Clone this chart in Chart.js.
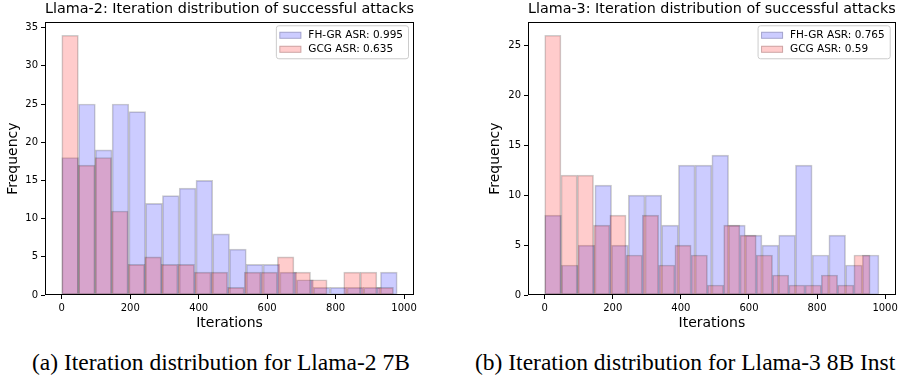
<!DOCTYPE html>
<html>
<head>
<meta charset="utf-8">
<script src="https://cdn.jsdelivr.net/npm/chart.js@4.4.1/dist/chart.umd.min.js"></script>
<style>
  body { margin: 0; background: #fff; }
  #page { position: relative; width: 901px; height: 375px; overflow: hidden; background: #fff; }
  .box { position: absolute; top: 0; height: 335px; }
  .caption { position: absolute; top: 348px; font-family: "Liberation Serif", serif; font-size: 23.5px; line-height: 28px; color: #000; white-space: nowrap; }
</style>
</head>
<body>
<div id="page">
  <div class="box" style="left:0;width:450px"><canvas id="chartA" width="450" height="335"></canvas></div>
  <div class="box" style="left:482px;width:419px"><canvas id="chartB" width="419" height="335"></canvas></div>
  <div class="caption" style="left:32px">(a) Iteration distribution for Llama-2 7B</div>
  <div class="caption" style="left:475px">(b) Iteration distribution for Llama-3 8B Inst</div>
</div>
<script>
// histogram counts, 20 bins each
const llama2FhgrCounts = [18, 25, 19, 25, 24, 12, 13, 14, 15, 8, 6, 4, 4, 3, 2, 1, 1, 1, 1, 3];
const llama2GcgCounts = [34, 17, 18, 11, 4, 5, 4, 4, 3, 3, 1, 3, 3, 5, 3, 2, 0, 3, 3, 1];
const llama3FhgrCounts = [8, 3, 5, 11, 5, 10, 10, 7, 13, 13, 14, 7, 6, 5, 6, 13, 4, 6, 3, 4];
const llama3GcgCounts = [26, 12, 12, 7, 8, 4, 8, 3, 5, 4, 1, 7, 6, 4, 2, 1, 1, 2, 1, 4];

// first / last iteration of each series (bin range)
const llama2FhgrRange = [0, 980];
const llama2GcgRange = [0, 969];
const llama3FhgrRange = [0, 982];
const llama3GcgRange = [0, 956];

// attack success rates shown in the legends
const llama2Asr = { fhgr: 0.995, gcg: 0.635 };
const llama3Asr = { fhgr: 0.765, gcg: 0.59 };

const FONT = '"DejaVu Sans", sans-serif';
Chart.defaults.font.family = FONT;
Chart.defaults.color = "#000";

function toPoints(counts, range) {
    const w = (range[1] - range[0]) / counts.length;
    return counts.map((c, i) => ({ x: range[0] + w * (i + 0.5), y: c }));
}

// box around the plot + legend in the top right corner (like matplotlib)
const frameAndLegend = {
    id: "frameAndLegend",
    afterDraw(chart) {
        const ctx = chart.ctx;
        const a = chart.chartArea;
        ctx.save();
        ctx.strokeStyle = "#000";
        ctx.lineWidth = 1;
        const l = Math.round(a.left) + 0.5, t = Math.round(a.top) + 0.5;
        const r = Math.round(a.right) - 0.5, b = Math.round(a.bottom) - 0.5;
        ctx.strokeRect(l, t, r - l, b - t);

        ctx.font = "10.5px " + FONT;
        const items = chart.data.datasets;
        const pad = 2.5, swW = 22, swH = 7, gap = 8, rowH = 14;
        const textW = Math.max(...items.map(d => ctx.measureText(d.label).width));
        const w = pad + swW + gap + textW + 5;
        const h = pad * 2 + rowH * items.length;
        const x0 = a.right - 6 - w;
        const y0 = a.top + 3;
        ctx.beginPath();
        ctx.roundRect(x0 + 0.5, y0 + 0.5, w, h, 2.5);
        ctx.fillStyle = "rgba(255,255,255,0.8)";
        ctx.fill();
        ctx.strokeStyle = "#cccccc";
        ctx.stroke();
        items.forEach((d, i) => {
            const cy = y0 + pad + rowH * (i + 0.5) + 0.5;
            ctx.fillStyle = d.backgroundColor;
            ctx.fillRect(x0 + pad + 1, cy - swH / 2, swW, swH);
            ctx.strokeStyle = d.borderColor;
            ctx.strokeRect(x0 + pad + 1.5, cy - swH / 2 + 0.5, swW - 1, swH - 1);
            ctx.fillStyle = "#000";
            ctx.textBaseline = "middle";
            ctx.fillText(d.label, x0 + pad + swW + gap, cy);
        });
        ctx.restore();
    }
};

function makeChart(id, title, fhgr, fhgrRange, gcg, gcgRange, asr, yWidth, padRight) {
    const lo = Math.min(fhgrRange[0], gcgRange[0]);
    const hi = Math.max(fhgrRange[1], gcgRange[1]);
    const xMin = lo - 0.05 * (hi - lo);
    const xMax = hi + 0.05 * (hi - lo);
    const yMax = 1.05 * Math.max(...fhgr, ...gcg);

    const barStyle = {
        borderColor: "rgba(0,0,0,0.2)",
        borderWidth: 1,
        borderSkipped: false,
        barPercentage: 1,
        categoryPercentage: 1,
        grouped: false
    };

    return new Chart(document.getElementById(id), {
        type: "bar",
        data: {
            datasets: [
                Object.assign({
                    label: "FH-GR ASR: " + asr.fhgr,
                    data: toPoints(fhgr, fhgrRange),
                    backgroundColor: "rgba(0,0,255,0.2)",
                    xAxisID: "x",
                    order: 1
                }, barStyle),
                Object.assign({
                    label: "GCG ASR: " + asr.gcg,
                    data: toPoints(gcg, gcgRange),
                    backgroundColor: "rgba(255,0,0,0.2)",
                    xAxisID: "x2",
                    order: 0
                }, barStyle)
            ]
        },
        options: {
            responsive: false,
            animation: false,
            devicePixelRatio: 1,
            layout: { padding: { left: 0, right: padRight, top: 0, bottom: 0 } },
            plugins: {
                legend: { display: false },
                tooltip: { enabled: false },
                title: {
                    display: true,
                    fullSize: false,
                    text: title,
                    color: "#000",
                    font: { size: 14.4, weight: "normal" },
                    padding: { top: 1, bottom: 4 }
                }
            },
            scales: {
                x: {
                    type: "linear",
                    position: "bottom",
                    offset: false,
                    min: xMin,
                    max: xMax,
                    ticks: {
                        stepSize: 200, includeBounds: false, font: { size: 10 }, padding: 3, maxRotation: 0,
                        callback: (v) => String(v)
                    },
                    grid: { offset: false, drawOnChartArea: false, drawTicks: true, tickLength: 4, color: "#000" },
                    border: { display: false },
                    title: { display: true, text: "Iterations", font: { size: 14 }, padding: { top: 0, bottom: 3.5 } },
                    afterFit: (s) => { s.height = 40; }
                },
                x2: {
                    type: "linear",
                    display: false,
                    offset: false,
                    grid: { offset: false },
                    min: xMin,
                    max: xMax
                },
                y: {
                    min: 0,
                    max: yMax,
                    ticks: { stepSize: 5, includeBounds: false, font: { size: 10 }, padding: 3 },
                    grid: { drawOnChartArea: false, drawTicks: true, tickLength: 4, color: "#000" },
                    border: { display: false },
                    title: { display: true, text: "Frequency", font: { size: 14 }, padding: { top: 4.5, bottom: 0 } },
                    afterFit: (s) => { s.width = yWidth; }
                }
            }
        },
        plugins: [frameAndLegend]
    });
}

makeChart("chartA", "Llama-2: Iteration distribution of successful attacks",
    llama2FhgrCounts, llama2FhgrRange, llama2GcgCounts, llama2GcgRange, llama2Asr, 45, 36);
makeChart("chartB", "Llama-3: Iteration distribution of successful attacks",
    llama3FhgrCounts, llama3FhgrRange, llama3GcgCounts, llama3GcgRange, llama3Asr, 46, 5);
</script>
</body>
</html>
